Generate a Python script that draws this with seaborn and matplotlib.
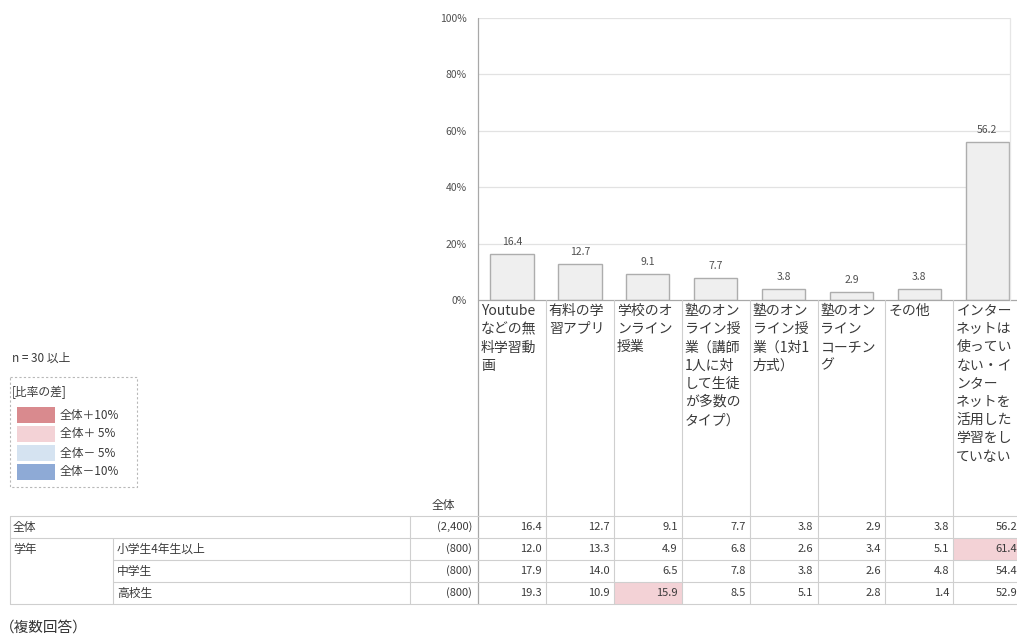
import numpy as np
import pandas as pd
import matplotlib
matplotlib.use("Agg")
import matplotlib.pyplot as plt
from matplotlib.colors import ListedColormap
from matplotlib.patches import Rectangle
import seaborn as sns

# ---- data -------------------------------------------------------------
categories = [
    "Youtubeなどの無料学習動画",
    "有料の学習アプリ",
    "学校のオンライン授業",
    "塾のオンライン授業（講師1人に対して生徒が多数のタイプ）",
    "塾のオンライン授業（1対1方式）",
    "塾のオンラインコーチング",
    "その他",
    "インターネットは使っていない・インターネットを活用した学習をしていない",
]
category_lines = [
    ["Youtube", "などの無", "料学習動", "画"],
    ["有料の学", "習アプリ"],
    ["学校のオ", "ンライン", "授業"],
    ["塾のオン", "ライン授", "業（講師", "1人に対", "して生徒", "が多数の", "タイプ）"],
    ["塾のオン", "ライン授", "業（1対1", "方式）"],
    ["塾のオン", "ライン", "コーチン", "グ"],
    ["その他"],
    ["インター", "ネットは", "使ってい", "ない・イ", "ンター", "ネットを", "活用した", "学習をし", "ていない"],
]
overall = [16.4, 12.7, 9.1, 7.7, 3.8, 2.9, 3.8, 56.2]
elementary = [12.0, 13.3, 4.9, 6.8, 2.6, 3.4, 5.1, 61.4]
junior_high = [17.9, 14.0, 6.5, 7.8, 3.8, 2.6, 4.8, 54.4]
senior_high = [19.3, 10.9, 15.9, 8.5, 5.1, 2.8, 1.4, 52.9]

row_groups = ["全体", "学年", "", ""]
row_labels = ["", "小学生4年生以上", "中学生", "高校生"]
row_n = [2400, 800, 800, 800]
y_ticks = [0, 20, 40, 60, 80, 100]
legend_labels = ["全体＋10%", "全体＋ 5%", "全体－ 5%", "全体－10%"]

# ---- style ------------------------------------------------------------
sns.set_theme(style="white")
plt.rcParams["font.family"] = ["Noto Sans CJK JP", "DejaVu Sans"]

W, H = 1017, 640
COLW = 67.9
X0 = 478
Y0, Y100 = 300, 18
TEXT = "#3a3a3a"
LINE = "#cfcfcf"
C_P10, C_P5, C_M5, C_M10 = "#d98a8e", "#f3d2d6", "#d5e3f1", "#8eaad6"

fig = plt.figure(figsize=(W / 100, H / 100), dpi=100)

def fx(px):
    return px / W

def fy(py):
    return 1 - py / H

# ---- bar chart --------------------------------------------------------
df = pd.DataFrame({"category": categories, "pct": overall})
ax = fig.add_axes([fx(X0), fy(Y0), 8 * COLW / W, (Y0 - Y100) / H])
ax.set_facecolor("none")
sns.barplot(data=df, x="category", y="pct", color="#efefef", saturation=1,
            edgecolor="#adadad", linewidth=1.0, width=0.64, ax=ax)
ax.set_xlim(-0.5, 7.5)
ax.set_ylim(0, 100)
ax.set_xticks([])
ax.set_xlabel("")
ax.set_ylabel("")
ax.set_yticks(y_ticks)
ax.set_yticklabels([f"{t}%" for t in y_ticks])
ax.tick_params(axis="y", length=0, pad=8, labelsize=7.5, labelcolor="#505050")
for s in ax.spines.values():
    s.set_visible(False)
grid_end = (1010 - X0) / COLW - 0.5
ax.hlines(y_ticks[1:], -0.5, grid_end, colors="#e2e2e2", linewidth=0.9, zorder=0)
ax.bar_label(ax.containers[0], labels=[f"{v:.1f}" for v in overall],
             padding=5, fontsize=7.5, color="#505050")

# ---- table cells (difference from the total) --------------------------
table = np.array([overall, elementary, junior_high, senior_high])
diff = table - table[0]
levels = np.select([diff >= 10, diff >= 5, diff <= -10, diff <= -5],
                   [2, 1, -2, -1], default=0)
ax_t = fig.add_axes([fx(X0), fy(604), 8 * COLW / W, 88 / H])
sns.heatmap(levels, cmap=ListedColormap([C_M10, C_M5, "white", C_P5, C_P10]),
            vmin=-2.5, vmax=2.5, cbar=False, xticklabels=False,
            yticklabels=False, ax=ax_t)
for i in range(table.shape[0]):
    for j in range(table.shape[1]):
        ax_t.text(j + 1 - 0.06, i + 0.5, f"{table[i, j]:.1f}", ha="right",
                  va="center", fontsize=8, color=TEXT)

# ---- frame, labels, legend -------------------------------------------
ac = fig.add_axes([0, 0, 1, 1])
ac.set_xlim(0, W)
ac.set_ylim(H, 0)
ac.axis("off")
ac.patch.set_alpha(0)

# plot area borders
ac.plot([X0, X0], [Y100, 604], color="#a8a8a8", lw=0.9)
ac.plot([X0, W], [Y0, Y0], color="#a8a8a8", lw=0.9)
ac.plot([1010, 1010], [Y100, Y0], color="#e6e6e6", lw=0.9)

# category columns
for k in range(1, 9):
    xk = X0 + k * COLW
    ac.plot([xk, xk], [Y0, 604], color=LINE, lw=0.8)
for j, lines in enumerate(category_lines):
    for li, txt in enumerate(lines):
        ac.text(X0 + j * COLW + 3, 311 + li * 18.2, txt, ha="left", va="center",
                fontsize=10, color=TEXT)

# table rules
row_tops = [516, 538, 560, 582, 604]
for k, yy in enumerate(row_tops):
    x_start = 113 if k in (2, 3) else 10
    ac.plot([x_start, W], [yy, yy], color=LINE, lw=0.8)
ac.plot([10, 10], [516, 604], color=LINE, lw=0.8)
ac.plot([113, 113], [538, 604], color=LINE, lw=0.8)
ac.plot([410, 410], [516, 604], color=LINE, lw=0.8)

ac.text(443, 506, "全体", ha="center", va="center", fontsize=8.5, color=TEXT)
for i in range(4):
    yc = (row_tops[i] + row_tops[i + 1]) / 2
    if row_groups[i]:
        ac.text(13, yc, row_groups[i], ha="left", va="center", fontsize=8.5, color=TEXT)
    if row_labels[i]:
        ac.text(117, yc, row_labels[i], ha="left", va="center", fontsize=8.5, color=TEXT)
    ac.text(472, yc, f"({row_n[i]:,})", ha="right", va="center", fontsize=8, color=TEXT)

# note and legend
ac.text(12, 358, "n = 30 以上", ha="left", va="center", fontsize=8.5, color=TEXT)
ac.add_patch(Rectangle((10, 377), 127, 110, fill=False, edgecolor="#b8b8b8",
                       linestyle=(0, (2, 2)), lw=0.8))
ac.text(12, 392, "[比率の差]", ha="left", va="center", fontsize=8.5, color=TEXT)
for k, (lab, col) in enumerate(zip(legend_labels, [C_P10, C_P5, C_M5, C_M10])):
    yc = 415 + k * 19
    ac.add_patch(Rectangle((17, yc - 8), 38, 16, facecolor=col, edgecolor="none"))
    ac.text(60, yc, lab, ha="left", va="center", fontsize=8.5, color=TEXT)

ac.text(0, 628, "（複数回答）", ha="left", va="center", fontsize=10.5, color="#333333")

fig.savefig("out.png", dpi=100)
